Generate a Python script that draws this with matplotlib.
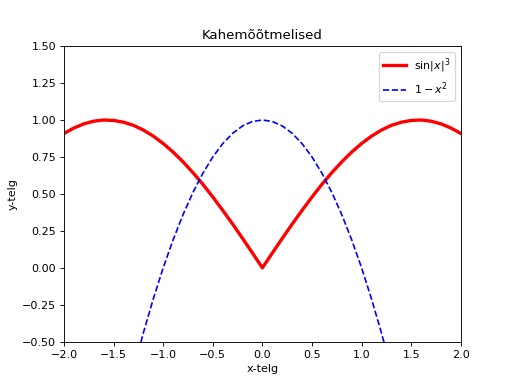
import matplotlib
matplotlib.use("Agg")
import matplotlib.pyplot as plt

# values, x step 0.1
x_vals = [-2.0, -1.9, -1.8, -1.7, -1.6, -1.5, -1.4, -1.3, -1.2, -1.1,
          -1.0, -0.9, -0.8, -0.7, -0.6, -0.5, -0.4, -0.3, -0.2, -0.1,
          0.0, 0.1, 0.2, 0.3, 0.4, 0.5, 0.6, 0.7, 0.8, 0.9,
          1.0, 1.1, 1.2, 1.3, 1.4, 1.5, 1.6, 1.7, 1.8, 1.9, 2.0]
red_vals = [0.909, 0.946, 0.974, 0.992, 1.000, 0.997, 0.985, 0.964, 0.932, 0.891,
            0.841, 0.783, 0.717, 0.644, 0.565, 0.479, 0.389, 0.296, 0.199, 0.100,
            0.0, 0.100, 0.199, 0.296, 0.389, 0.479, 0.565, 0.644, 0.717, 0.783,
            0.841, 0.891, 0.932, 0.964, 0.985, 0.997, 1.000, 0.992, 0.974, 0.946, 0.909]
blue_vals = [-3.00, -2.61, -2.24, -1.89, -1.56, -1.25, -0.96, -0.69, -0.44, -0.21,
             0.00, 0.19, 0.36, 0.51, 0.64, 0.75, 0.84, 0.91, 0.96, 0.99,
             1.00, 0.99, 0.96, 0.91, 0.84, 0.75, 0.64, 0.51, 0.36, 0.19,
             0.00, -0.21, -0.44, -0.69, -0.96, -1.25, -1.56, -1.89, -2.24, -2.61, -3.00]

fig = plt.figure(figsize=(6.4, 4.8), dpi=80)
plt.plot(x_vals, red_vals, "r-", linewidth=3, label=r"$\sin|x|^3$")
plt.plot(x_vals, blue_vals, "b--", label=r"$1-x^2$")
plt.xlim(-2, 2)
plt.ylim(-0.5, 1.5)
plt.title("Kahemõõtmelised")
plt.xlabel("x-telg")
plt.ylabel("y-telg")
plt.legend()
plt.savefig("out.png")
